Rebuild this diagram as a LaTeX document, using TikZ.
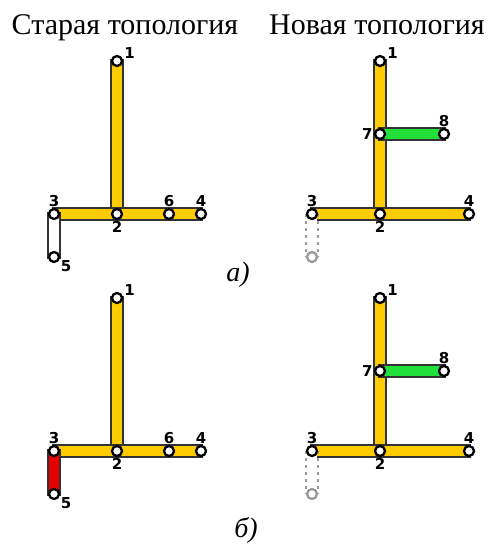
\documentclass[tikz,border=0pt]{standalone}
\usepackage{fontspec}
\setmainfont{Liberation Serif}
\newfontfamily\numfont{DejaVu Sans}
\usetikzlibrary{arrows.meta,backgrounds}
\definecolor{busyellow}{HTML}{FFCC00}
\definecolor{busgreen}{HTML}{22E03A}
\definecolor{busred}{HTML}{E80000}
\definecolor{ghost}{HTML}{9A9A9A}

\tikzset{
  bus/.style={draw=#1,line width=9.5pt,
    preaction={draw=black!80,line width=14pt,shorten <=-2pt,shorten >=-2pt}},
  bus/.default=busyellow,
  ghostbus/.style={draw=white,line width=10pt,
    preaction={draw=ghost,line width=13.5pt,dash pattern=on 3pt off 4pt}},
  bnode/.style={circle,draw,line width=2.3pt,fill=white,inner sep=0pt,minimum size=10pt},
  gnode/.style={bnode,draw=ghost},
  lbl/.style={font=\numfont\bfseries\fontsize{15}{15}\selectfont,inner sep=1pt},
  title/.style={font=\fontsize{30}{32}\selectfont,anchor=base},
  case/.style={font=\itshape\fontsize{28}{30}\selectfont,anchor=base}
}

\begin{document}
\begin{tikzpicture}[>=Latex,x=1pt,y=-1pt]
\useasboundingbox (0,0) rectangle (487,545);
\node[title] (told) at (125,35) {Старая топология};
\node[title] (tnew) at (377,35) {Новая топология};

% case a
\node[bnode,label={[lbl]10:1}] (oa1) at (117,61) {};
\node[bnode,label={[lbl]below:2}] (oa2) at (117,214) {};
\node[bnode,label={[lbl]above:3}] (oa3) at (54,214) {};
\node[bnode,label={[lbl]above:6}] (oa6) at (169,214) {};
\node[bnode,label={[lbl]above:4}] (oa4) at (201,214) {};
\node[bnode,label={[lbl]-25:5}] (oa5) at (54,257) {};

\node[bnode,label={[lbl]10:1}] (na1) at (380,61) {};
\node[bnode,label={[lbl]left:7}] (na7) at (380,134) {};
\node[bnode,label={[lbl]above:8}] (na8) at (444,134) {};
\node[bnode,label={[lbl]below:2}] (na2) at (380,214) {};
\node[bnode,label={[lbl]above:3}] (na3) at (312,214) {};
\node[bnode,label={[lbl]above:4}] (na4) at (469,214) {};
\node[gnode] (na5) at (312,257) {};

\node[case] (ca) at (238,281) {а)};

\begin{scope}[on background layer]
\draw[bus] (oa1.center) -- (oa2.center);
\draw[bus] (oa3.center) -- (oa4.center);
\draw[bus=white] (oa3.center) -- (oa5.center);
\draw[bus] (na1.center) -- (na2.center);
\draw[bus] (na3.center) -- (na4.center);
\draw[bus=busgreen] (na7.center) -- (na8.center);
\draw[ghostbus] (na3.center) -- (na5.center);
\end{scope}

% case b
\begin{scope}[shift={(0,237)}]
\node[bnode,label={[lbl]10:1}] (ob1) at (117,61) {};
\node[bnode,label={[lbl]below:2}] (ob2) at (117,214) {};
\node[bnode,label={[lbl]above:3}] (ob3) at (54,214) {};
\node[bnode,label={[lbl]above:6}] (ob6) at (169,214) {};
\node[bnode,label={[lbl]above:4}] (ob4) at (201,214) {};
\node[bnode,label={[lbl]-25:5}] (ob5) at (54,257) {};

\node[bnode,label={[lbl]10:1}] (nb1) at (380,61) {};
\node[bnode,label={[lbl]left:7}] (nb7) at (380,134) {};
\node[bnode,label={[lbl]above:8}] (nb8) at (444,134) {};
\node[bnode,label={[lbl]below:2}] (nb2) at (380,214) {};
\node[bnode,label={[lbl]above:3}] (nb3) at (312,214) {};
\node[bnode,label={[lbl]above:4}] (nb4) at (469,214) {};
\node[gnode] (nb5) at (312,257) {};

\node[case] (cb) at (246,300) {б)};

\begin{scope}[on background layer]
\draw[bus] (ob1.center) -- (ob2.center);
\draw[bus] (ob3.center) -- (ob4.center);
\draw[bus=busred] (ob3.center) -- (ob5.center);
\draw[bus] (nb1.center) -- (nb2.center);
\draw[bus] (nb3.center) -- (nb4.center);
\draw[bus=busgreen] (nb7.center) -- (nb8.center);
\draw[ghostbus] (nb3.center) -- (nb5.center);
\end{scope}
\end{scope}
\end{tikzpicture}
\end{document}
